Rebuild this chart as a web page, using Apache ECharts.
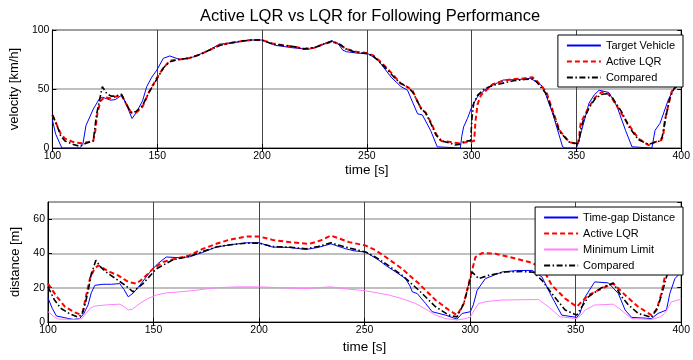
<!DOCTYPE html>
<html>
<head>
<meta charset="utf-8">
<script src="https://cdn.jsdelivr.net/npm/echarts@6/dist/echarts.min.js"></script>
<style>
  html, body { margin: 0; padding: 0; background: #fff; }
  #chart { width: 693px; height: 360px; }
</style>
</head>
<body>
<div id="chart"></div>
<script>
// time [s] axis ticks shared by both plots
var timeTicks = [100, 150, 200, 250, 300, 350, 400];

// upper plot: velocity [km/h], pairs of [time, value]
var velTarget = [[100,24],[101.5,12],[104.5,0],[113,0],[114.5,3],[116,19],[119.5,33],[122.5,42],[124,43],[127.7,40.5],[130,41],[133.2,45],[135,38],[138,25],[140,30],[143,40],[145,52],[147.4,60],[149.8,66],[152.9,76],[156,78],[160.8,75],[167,77],[173.3,81.6],[179.7,88],[187.5,89.5],[193.9,91.5],[200,91.5],[206.4,87],[214.3,85],[222.2,83.6],[228,87],[233.2,91],[236.5,88],[238.5,83],[240.3,81.6],[245,80.5],[250.5,80],[255.3,74.6],[261.6,60],[266.3,52],[269.4,49],[271.8,39],[274.2,29],[276.5,28],[280.4,15],[283.6,1],[284.5,0],[294.6,0],[295.3,10],[296.2,18],[298,25],[300.1,35],[303,44],[307.2,50.6],[315,57.6],[322,58],[328,59],[331,56],[334,52],[338.7,29],[343.4,1],[344.5,0],[350,0],[351,5],[352.5,15],[356,38],[358.5,45],[360.8,49],[365.5,47],[369.4,35],[373.4,15],[376.5,1],[377,0],[386,0],[387.5,15],[389.9,21],[393.8,40.7],[397,52],[400,57]];
var velActive = [[100,28],[102,20],[104,12],[106,8],[110,5],[114,4],[117,5],[119.5,6],[120.5,15],[121.5,30],[123,40],[125,43],[128,42],[130,43.5],[133,44.5],[135,38],[137.5,30],[140,30],[143,35],[146,47],[150,60],[153,68],[156,74],[160,75],[165,76],[170,79],[175,83],[180,87.5],[185,89],[190,90.5],[195,91.5],[200,91.5],[205,88.5],[210,87],[215,86],[220,84],[225,85],[230,88.5],[233.5,90],[237,88],[240,84],[245,81.5],[250,80.5],[253,78.5],[256,74],[260,67],[263,61],[266,55],[270,51],[272,48],[274,40],[276,33],[278,30],[280.5,22],[283,12],[285.5,6],[290,5],[294,4],[298,5],[301.2,6],[301.8,22],[302.8,37],[304.5,45],[307,49],[310,54],[315,57],[320,58.5],[325,59],[329,60],[331,57],[335.6,47.7],[341.9,15],[346.6,5],[350.5,3.4],[351.2,8],[352,21],[356,35],[359,43],[362.3,47.7],[365,46],[367,42],[373.4,23.7],[379.6,8],[384.4,2.5],[387.5,5],[390.6,6.8],[391.5,12],[392.2,23.7],[395.4,47.7],[400,57.6]];
var velCompared = [[100,28],[102,20],[104,10],[106,6],[110,3],[113,1.5],[116,4],[119.5,6],[121,28],[123.8,52],[126,46],[128,44],[130,44],[133,45.5],[135,38],[137.5,30],[140,31],[143,36],[146,47],[150,59],[153,68],[156,73],[160,75],[165,76],[170,79],[175,83],[180,87],[185,89],[190,90.5],[195,91.5],[200,91.5],[205,88],[210,87],[215,86],[220,84],[225,85],[230,88.5],[233.5,90.5],[237,88],[240,84],[245,81],[250,80],[253,78],[256,73],[260,66],[263,60],[266,55],[270,51],[272,47],[274,40],[276,33],[278,30],[280.5,21],[283,11],[285.5,6],[290,4],[292,2.5],[294,3],[296,5],[298,6],[299.5,6],[300.2,26],[301,38],[303,45],[306,50],[310,53],[315,55],[320,57],[325,58],[329,58.5],[331,56],[335.6,46],[341.9,14],[346.6,5],[351,3.5],[352,15],[353,22],[356,34],[359,42],[362.3,45.5],[365,46],[367,43],[371.8,30],[375,18],[379.6,7],[384.4,3],[387.5,5],[390,6],[391,10],[392.5,25],[394.5,42],[396.5,50],[400,56]];

// lower plot: distance [m]
var distGap = [[100,14],[102,8],[104,3.5],[108,2.5],[112,1.5],[115,2],[117,5],[119,10],[120.5,17],[122.2,21.4],[126,22],[130,22],[134,22.4],[136,19],[138,14.7],[140.5,17],[143.5,21.4],[148.2,29],[152,34],[156,37.9],[162.4,37.5],[167,38],[173,40.5],[179.7,43.7],[186,45],[193.9,46.2],[200,46.2],[206.4,43.7],[214.3,43.5],[222.2,42.3],[228,43.5],[234,45.6],[241.1,42.7],[245,41.5],[250.5,40.8],[256.8,36],[260,33],[264.7,29.2],[269.4,25.3],[271.5,21],[272.6,17.6],[274.9,16.6],[278.9,10.8],[282,6],[288.3,4],[293.8,1.7],[296.2,5],[300.1,6],[301.5,10],[303.3,18.5],[307.2,25.3],[315.1,29.2],[322,30],[329.3,30.1],[334,26.3],[338.7,14.7],[343.4,4],[350.5,2.7],[352,5],[354.5,14.7],[359,23.4],[365.5,22.8],[370.2,16.6],[373.4,7],[376.5,2.7],[385.9,2],[389,5],[393,7],[394.6,16.6],[397,25.3],[400,29.2]];
var distActive = [[100,22.4],[104,15],[108,9],[112,6],[115,4.5],[116.5,6],[118,15],[120,26],[122,31],[123.8,33],[129.3,29.2],[133.2,27.2],[138,23.4],[141.9,22.4],[145,25.3],[149.7,31],[154.5,35],[162.4,37.5],[167,38.8],[173,42.5],[179.7,45.6],[186,48],[193.9,49.9],[200,49.9],[206.4,47.9],[214.3,46.6],[223.8,45.6],[229,47.5],[234,50.4],[242.7,46.6],[250.5,44.6],[255,42],[260,37.9],[267.8,31],[275.7,22.4],[283.6,12.8],[289.9,7],[293.8,4],[297,10.8],[300.1,26.3],[302.5,37.9],[305.6,40.2],[311.9,39.8],[320,37.5],[328,35],[334,32],[338.7,21.4],[345,13.7],[350.5,8.9],[356,15.7],[362.3,19.5],[367.8,22.4],[373.4,15.7],[379.6,8.9],[385.9,4],[388.3,7],[390.6,16.6],[392.2,26.3],[395,38],[397.5,42],[400,44]];
var distMin = [[100,6],[103,3],[105,1.7],[113,1.5],[116,2],[118,5],[120,8],[122.2,9.3],[128,10],[134,10.4],[136,9],[138,7],[140,7.5],[143.5,10.8],[147,13.5],[151.3,15.7],[156,17],[162.4,17.6],[170,18.5],[179.7,20],[190,20.5],[200,20.5],[210,20],[222.2,19.5],[228,20],[234,20.5],[240,19.5],[250.5,18.2],[256,17],[261.6,15.7],[268,13.5],[274.2,10.8],[279,7.5],[283.6,4],[288.3,2],[293.8,1.2],[298,2],[300.1,3],[302,7],[304,10.8],[308,12],[315,12.8],[325,13],[332.4,13.1],[337.1,8.9],[342.6,3],[350.5,2],[352.5,4],[354.5,7],[359,9.9],[367.8,10.4],[370.5,8],[373.4,5],[376.5,2],[386,1.5],[390,3],[392.2,5],[395.4,11.8],[400,13.3]];
var distCompared = [[100,20.5],[103,13],[106,8],[110,5],[114,3],[116,4],[117.5,10],[119,18],[120.5,28],[122.7,36],[125,32],[127.7,29],[133.2,24.3],[137,21],[140.3,17.6],[145,22.4],[151.3,31],[159.2,36.3],[167,38.3],[173,41],[179.7,43.7],[186,45],[193.9,46],[200,46],[206.4,44],[214.3,43.7],[222.2,42.7],[228,44],[234,46.2],[240,44],[250.5,40.8],[255,38],[260,34],[267.8,27.2],[275.7,18.5],[283.6,8.9],[289.9,4],[293.8,3],[297,10.8],[300.9,29.2],[304,25.3],[308.7,27.2],[316.6,29.2],[325,29.5],[330,29],[334,24.3],[338.7,16.6],[345,7],[350.5,4],[353,9],[356,14.7],[362.3,20],[367.8,22.8],[371.8,14.7],[375,10],[379.6,5],[385.9,2.7],[389,8.9],[391.5,19.5],[393,26.3],[395,33],[397.5,38],[400,41]];

var FONT = 'Liberation Sans, Arial, sans-serif';

var myChart = echarts.init(document.getElementById('chart'), null, { renderer: 'canvas' });

function timeAxis(gridIndex, pos, nameGap) {
    var main = pos === 'bottom';
    return {
        type: 'value', gridIndex: gridIndex, position: pos,
        min: timeTicks[0], max: timeTicks[timeTicks.length - 1], interval: 50,
        name: main ? 'time [s]' : '', nameLocation: 'middle', nameGap: nameGap,
        nameTextStyle: { fontFamily: FONT, fontSize: 13.5, color: '#000' },
        axisLine: { show: true, lineStyle: { color: '#000', width: 1 } },
        axisTick: { show: true, inside: true, length: 4, lineStyle: { color: '#000' } },
        axisLabel: { show: main, margin: 3, fontFamily: FONT, fontSize: 10.5, color: '#000' },
        splitLine: { show: main, lineStyle: { color: '#444', width: 1 } }
    };
}

function valueAxis(gridIndex, pos, name, max, interval) {
    var main = pos === 'left';
    return {
        type: 'value', gridIndex: gridIndex, position: pos,
        min: 0, max: max, interval: interval,
        name: main ? name : '', nameLocation: 'middle', nameGap: 26,
        nameTextStyle: { fontFamily: FONT, fontSize: 13, color: '#000' },
        axisLine: { show: true, lineStyle: { color: '#000', width: 1 } },
        axisTick: { show: true, inside: true, length: 4, lineStyle: { color: '#000' } },
        axisLabel: { show: main, margin: 3, showMaxLabel: max % interval === 0, fontFamily: FONT, fontSize: 10.5, color: '#000' },
        splitLine: { show: main, lineStyle: { color: '#aaa', width: 1.5 } }
    };
}

function line(name, data, xi, yi, color, width, type) {
    return {
        name: name, type: 'line', xAxisIndex: xi, yAxisIndex: yi,
        data: data, symbol: 'none', showSymbol: false,
        lineStyle: { color: color, width: width, type: type },
        itemStyle: { color: color },
        emphasis: { disabled: true }
    };
}

function legendBox(names, top) {
    return {
        data: names,
        orient: 'vertical', right: 10, top: top,
        backgroundColor: '#fff', borderColor: '#000', borderWidth: 1,
        padding: [5, 8, 4, 8], itemGap: 5, itemWidth: 34, itemHeight: 10,
        itemStyle: { opacity: 0, color: 'transparent', borderWidth: 0 },
        textStyle: { fontFamily: FONT, fontSize: 11, color: '#000' },
        formatter: function (n) { return n.trim(); },
        selectedMode: false
    };
}

var dash = [5, 3];
var dashDot = [6, 2.5, 1.5, 2.5];

var option = {
    animation: false,
    backgroundColor: '#fff',
    title: {
        text: 'Active LQR vs LQR for Following Performance',
        left: 365, top: 3, textAlign: 'center',
        textStyle: { fontFamily: FONT, fontSize: 16.5, fontWeight: 'normal', color: '#000' }
    },
    grid: [
        { left: 48, right: 10, top: 30, height: 118, show: true, borderColor: '#000', borderWidth: 1 },
        { left: 48, right: 10, top: 202, height: 120, show: true, borderColor: '#000', borderWidth: 1 }
    ],
    xAxis: [
        timeAxis(0, 'bottom', 14),
        timeAxis(0, 'top', 0),
        timeAxis(1, 'bottom', 18),
        timeAxis(1, 'top', 0)
    ],
    yAxis: [
        valueAxis(0, 'left', 'velocity [km/h]', 100, 50),
        valueAxis(0, 'right', '', 100, 50),
        valueAxis(1, 'left', 'distance [m]', 70, 20),
        valueAxis(1, 'right', '', 70, 20)
    ],
    legend: [
        legendBox(['Target Vehicle', 'Active LQR', 'Compared'], 35),
        legendBox(['Time-gap Distance', 'Active LQR ', 'Minimum Limit', 'Compared '], 207)
    ],
    series: [
        line('Target Vehicle', velTarget, 0, 0, '#0000ff', 1, 'solid'),
        line('Active LQR', velActive, 0, 0, '#ff0000', 2, dash),
        line('Compared', velCompared, 0, 0, '#000000', 1.6, dashDot),
        line('Time-gap Distance', distGap, 2, 2, '#0000ff', 1, 'solid'),
        line('Active LQR ', distActive, 2, 2, '#ff0000', 2, dash),
        line('Minimum Limit', distMin, 2, 2, '#ff80ff', 1, 'solid'),
        line('Compared ', distCompared, 2, 2, '#000000', 1.6, dashDot)
    ]
};

myChart.setOption(option);
</script>
</body>
</html>
